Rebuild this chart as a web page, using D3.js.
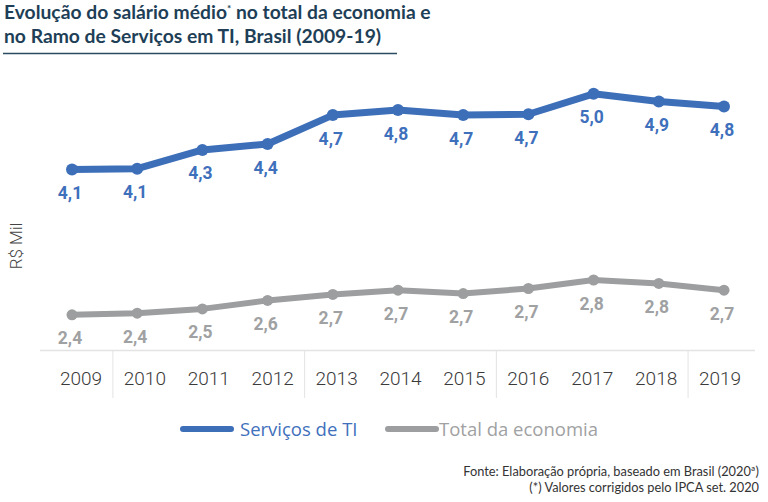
<!DOCTYPE html>
<html>
<head>
<meta charset="utf-8">
<script src="https://cdn.jsdelivr.net/npm/d3@7"></script>
<style>
  html, body { margin: 0; padding: 0; background: #fff; }
  svg { display: block; }
</style>
</head>
<body>
<svg id="chart" width="768" height="502"></svg>
<script>
const years = ["2009","2010","2011","2012","2013","2014","2015","2016","2017","2018","2019"];
const servicosTI = [4.10, 4.11, 4.33, 4.40, 4.74, 4.80, 4.74, 4.75, 4.99, 4.90, 4.84];
const totalEconomia = [2.39, 2.41, 2.46, 2.56, 2.63, 2.68, 2.64, 2.70, 2.80, 2.76, 2.68];
const servicosLabels = ["4,1","4,1","4,3","4,4","4,7","4,8","4,7","4,7","5,0","4,9","4,8"];
const totalLabels = ["2,4","2,4","2,5","2,6","2,7","2,7","2,7","2,7","2,8","2,8","2,7"];
const seriesNames = ["Serviços de TI", "Total da economia"];

const svg = d3.select("#chart");
const blue = "#3d6fb9", gray = "#9c9e9f";
const blueText = "#3f70bc", grayText = "#a0a1a2";

// Title
const title = svg.append("text").attr("font-family", "Lato, 'Open Sans', sans-serif")
  .attr("font-weight", 700).attr("font-size", 19.3).attr("fill", "#1e3f57");
title.append("tspan").attr("x", 4).attr("y", 19).text("Evolução do salário médio");
title.append("tspan").attr("dy", -7).attr("font-size", 10).text("*");
title.append("tspan").attr("dy", 7).text(" no total da economia e");
svg.append("text").attr("font-family", "Lato, 'Open Sans', sans-serif")
  .attr("font-weight", 700).attr("font-size", 19.3).attr("fill", "#1e3f57")
  .attr("x", 4).attr("y", 43).text("no Ramo de Serviços em TI, Brasil (2009-19)");
svg.append("line").attr("x1", 3).attr("x2", 397).attr("y1", 53.5).attr("y2", 53.5)
  .attr("stroke", "#2b4b62").attr("stroke-width", 1.5);

// Scales
const y = d3.scaleLinear().domain([2, 5.5]).range([348, 50.5]);
const xPts = d3.scalePoint().domain(years).range([72, 724]);
const xAxis = d3.scaleBand().domain(years).range([49, 752]);

// Axis
const axisG = svg.append("g").attr("transform", "translate(0,350.5)")
  .call(d3.axisBottom(xAxis).tickSize(0).tickPadding(21.5));
axisG.select(".domain").remove();
axisG.selectAll("text").attr("font-family", "Roboto, 'Liberation Sans', sans-serif")
  .attr("font-size", 19).attr("fill", "#3a3a3a").attr("font-weight", 300);
svg.append("line").attr("x1", 40).attr("x2", 755).attr("y1", 350.5).attr("y2", 350.5)
  .attr("stroke", "#e3e3e3").attr("stroke-width", 1.5);
// category separators every 3 categories
const sepYears = years.filter((d, i) => i % 3 === 0 && i < years.length - 1);
svg.selectAll("line.sep").data(sepYears).enter().append("line")
  .attr("class", "sep")
  .attr("x1", d => xAxis(d) + xAxis.bandwidth()).attr("x2", d => xAxis(d) + xAxis.bandwidth())
  .attr("y1", 350.5).attr("y2", 398)
  .attr("stroke", "#e3e3e3").attr("stroke-width", 1);

// Y axis title
svg.append("text").attr("transform", "translate(22,246) rotate(-90)")
  .attr("text-anchor", "middle").attr("font-family", "Roboto, 'Liberation Sans', sans-serif")
  .attr("font-size", 17).attr("font-weight", 300).attr("fill", "#444").text("R$ Mil");

// Lines
const series = [
  {name: seriesNames[0], values: servicosTI, labels: servicosLabels, color: blue, text: blueText, w: 7, r: 6},
  {name: seriesNames[1], values: totalEconomia, labels: totalLabels, color: gray, text: grayText, w: 6, r: 5.5}
];
const line = d3.line().x((d, i) => xPts(years[i])).y(d => y(d));
series.forEach(s => {
  svg.append("path").attr("d", line(s.values)).attr("fill", "none")
    .attr("stroke", s.color).attr("stroke-width", s.w).attr("stroke-linejoin", "round");
  svg.selectAll(null).data(s.values).enter().append("circle")
    .attr("cx", (d, i) => xPts(years[i])).attr("cy", d => y(d)).attr("r", s.r)
    .attr("fill", s.color);
  svg.selectAll(null).data(s.values).enter().append("text")
    .attr("x", (d, i) => xPts(years[i]) - 2).attr("y", d => y(d) + 29.5)
    .attr("text-anchor", "middle").attr("font-family", "Roboto, 'Open Sans', sans-serif")
    .attr("font-weight", 700).attr("font-size", 17.5).attr("fill", s.text)
    .text((d, i) => s.labels[i]);
});

// Legend
const legend = [
  {name: seriesNames[0], color: blue, text: blueText, x1: 183, x2: 231, tx: 240},
  {name: seriesNames[1], color: gray, text: grayText, x1: 388, x2: 436, tx: 439}
];
legend.forEach(l => {
  svg.append("line").attr("x1", l.x1).attr("x2", l.x2).attr("y1", 429).attr("y2", 429)
    .attr("stroke", l.color).attr("stroke-width", 6).attr("stroke-linecap", "round");
  svg.append("text").attr("x", l.tx).attr("y", 435.5)
    .attr("font-family", "'Open Sans', 'Noto Sans', sans-serif").attr("font-size", 18.5)
    .attr("fill", l.text).text(l.name);
});

// Source notes
const notes = svg.append("g").attr("font-family", "Lato, 'Open Sans', sans-serif")
  .attr("font-size", 12.8).attr("fill", "#333").attr("text-anchor", "end");
notes.append("text").attr("x", 759).attr("y", 476).text("Fonte: Elaboração própria, baseado em Brasil (2020ª)");
notes.append("text").attr("x", 759).attr("y", 492).text("(*) Valores corrigidos pelo IPCA set. 2020");
</script>
</body>
</html>
